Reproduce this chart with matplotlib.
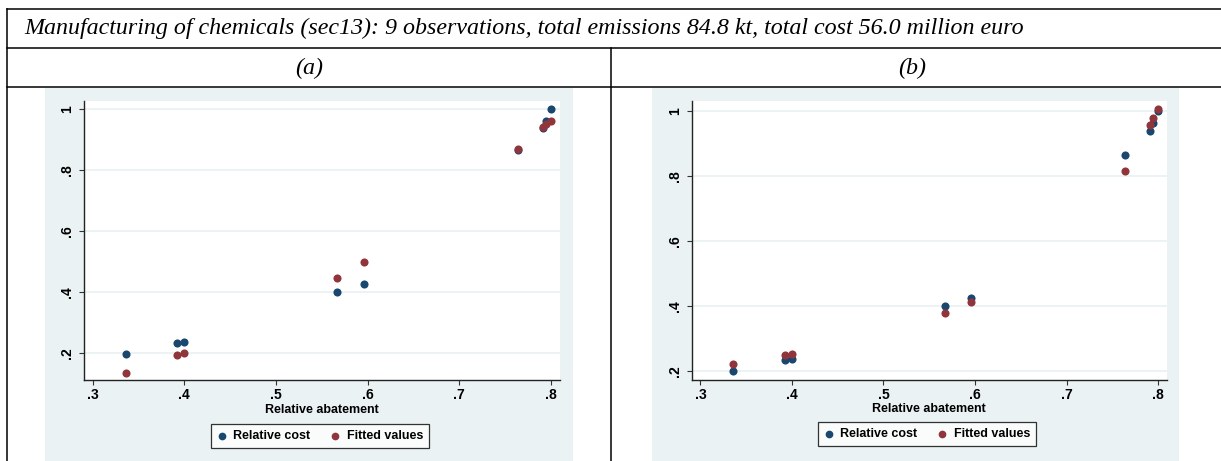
import matplotlib
matplotlib.use("Agg")
import matplotlib.pyplot as plt
from matplotlib.patches import Rectangle
from matplotlib.lines import Line2D

# sector header
title = "Manufacturing of chemicals (sec13): 9 observations, total emissions 84.8 kt, total cost 56.0 million euro"
panels = ["(a)", "(b)"]

# observations
abatement = [0.336, 0.392, 0.400, 0.567, 0.596, 0.764, 0.791, 0.795, 0.800]
rel_cost = [0.199, 0.234, 0.238, 0.400, 0.426, 0.865, 0.938, 0.962, 1.000]
fitted_a = [0.137, 0.194, 0.202, 0.446, 0.499, 0.869, 0.941, 0.951, 0.960]
fitted_b = [0.221, 0.248, 0.252, 0.380, 0.413, 0.815, 0.957, 0.980, 1.006]

xticks = [0.3, 0.4, 0.5, 0.6, 0.7, 0.8]
xticklabels = [".3", ".4", ".5", ".6", ".7", ".8"]
yticks = [0.2, 0.4, 0.6, 0.8, 1.0]
yticklabels = [".2", ".4", ".6", ".8", "1"]

NAVY = "#1a476f"
MAROON = "#90353b"
BG = "#eaf2f3"

W, H = 1221, 461
fig = plt.figure(figsize=(W / 100, H / 100), dpi=100)
fig.patch.set_facecolor("white")


def fx(x):
    return x / W


def fy(y):
    return 1 - y / H


def rect(x0, y0, x1, y1):
    return [fx(x0), fy(y1), (x1 - x0) / W, (y1 - y0) / H]


# table rules
line_kw = dict(color="black", lw=1.1, transform=fig.transFigure)
for y in (9.5, 48, 87):
    fig.add_artist(Line2D([fx(7), 1], [fy(y), fy(y)], **line_kw))
fig.add_artist(Line2D([fx(7), fx(7)], [fy(9.5), 0], **line_kw))
fig.add_artist(Line2D([fx(610.5), fx(610.5)], [fy(48), 0], **line_kw))

serif = ["Liberation Serif", "DejaVu Serif"]
fig.text(fx(24), fy(34), title, family=serif, style="italic", fontsize=17.3,
         ha="left", va="baseline")
fig.text(fx(309), fy(68), panels[0], family=serif, style="italic", fontsize=17.3,
         ha="center", va="center")
fig.text(fx(912), fy(68), panels[1], family=serif, style="italic", fontsize=17.3,
         ha="center", va="center")

sans = ["Liberation Sans", "DejaVu Sans"]

# per-panel geometry: background, plot region, axis limits, legend centre
layouts = [
    dict(bg=(45, 88, 573, 461), plot=(84.3, 101, 560, 380),
         xlim=(0.2908, 0.8101), ylim=(0.1125, 1.027), legend=(320, 436),
         fitted=fitted_a),
    dict(bg=(652, 88, 1179, 461), plot=(691.6, 101, 1167, 379.5),
         xlim=(0.2903, 0.8098), ylim=(0.174, 1.031), legend=(927, 434),
         fitted=fitted_b),
]

for lay in layouts:
    fig.add_artist(Rectangle((fx(lay["bg"][0]), fy(lay["bg"][3])),
                             (lay["bg"][2] - lay["bg"][0]) / W,
                             (lay["bg"][3] - lay["bg"][1]) / H,
                             transform=fig.transFigure, facecolor=BG,
                             edgecolor="none", zorder=0))
    ax = fig.add_axes(rect(*lay["plot"]))
    ax.set_facecolor("white")
    h1 = ax.scatter(abatement, rel_cost, s=34, color=NAVY, linewidths=0,
                    label="Relative cost", zorder=3)
    h2 = ax.scatter(abatement, lay["fitted"], s=34, color=MAROON, linewidths=0,
                    label="Fitted values", zorder=4)
    ax.set_xlim(*lay["xlim"])
    ax.set_ylim(*lay["ylim"])
    ax.set_xticks(xticks)
    ax.set_xticklabels(xticklabels, family=sans, weight="bold", fontsize=10)
    ax.set_yticks(yticks)
    ax.set_yticklabels(yticklabels, family=sans, weight="bold", fontsize=10,
                       rotation=90, va="center")
    ax.tick_params(axis="both", length=3.6, width=0.8, color="#333333")
    ax.tick_params(axis="y", pad=3.5)
    ax.tick_params(axis="x", pad=2.5)
    for side in ("top", "right"):
        ax.spines[side].set_visible(False)
    for side in ("left", "bottom"):
        ax.spines[side].set_color("#222222")
        ax.spines[side].set_linewidth(1.0)
    ax.yaxis.grid(True, color=BG, lw=1.3)
    ax.set_axisbelow(True)
    ax.set_xlabel("Relative abatement", family=sans, weight="bold", fontsize=9,
                  labelpad=1.0)
    leg = fig.legend(handles=[h1, h2], loc="center",
                     bbox_to_anchor=(fx(lay["legend"][0]), fy(lay["legend"][1])),
                     ncol=2, frameon=True, fancybox=False, markerscale=0.95,
                     handlelength=0.8, handletextpad=0.5, columnspacing=1.6,
                     borderpad=0.45, prop=dict(family=sans, weight="bold", size=9))
    leg.get_frame().set_edgecolor("black")
    leg.get_frame().set_linewidth(0.9)
    leg.get_frame().set_facecolor("white")

fig.savefig("out.png", dpi=100)
